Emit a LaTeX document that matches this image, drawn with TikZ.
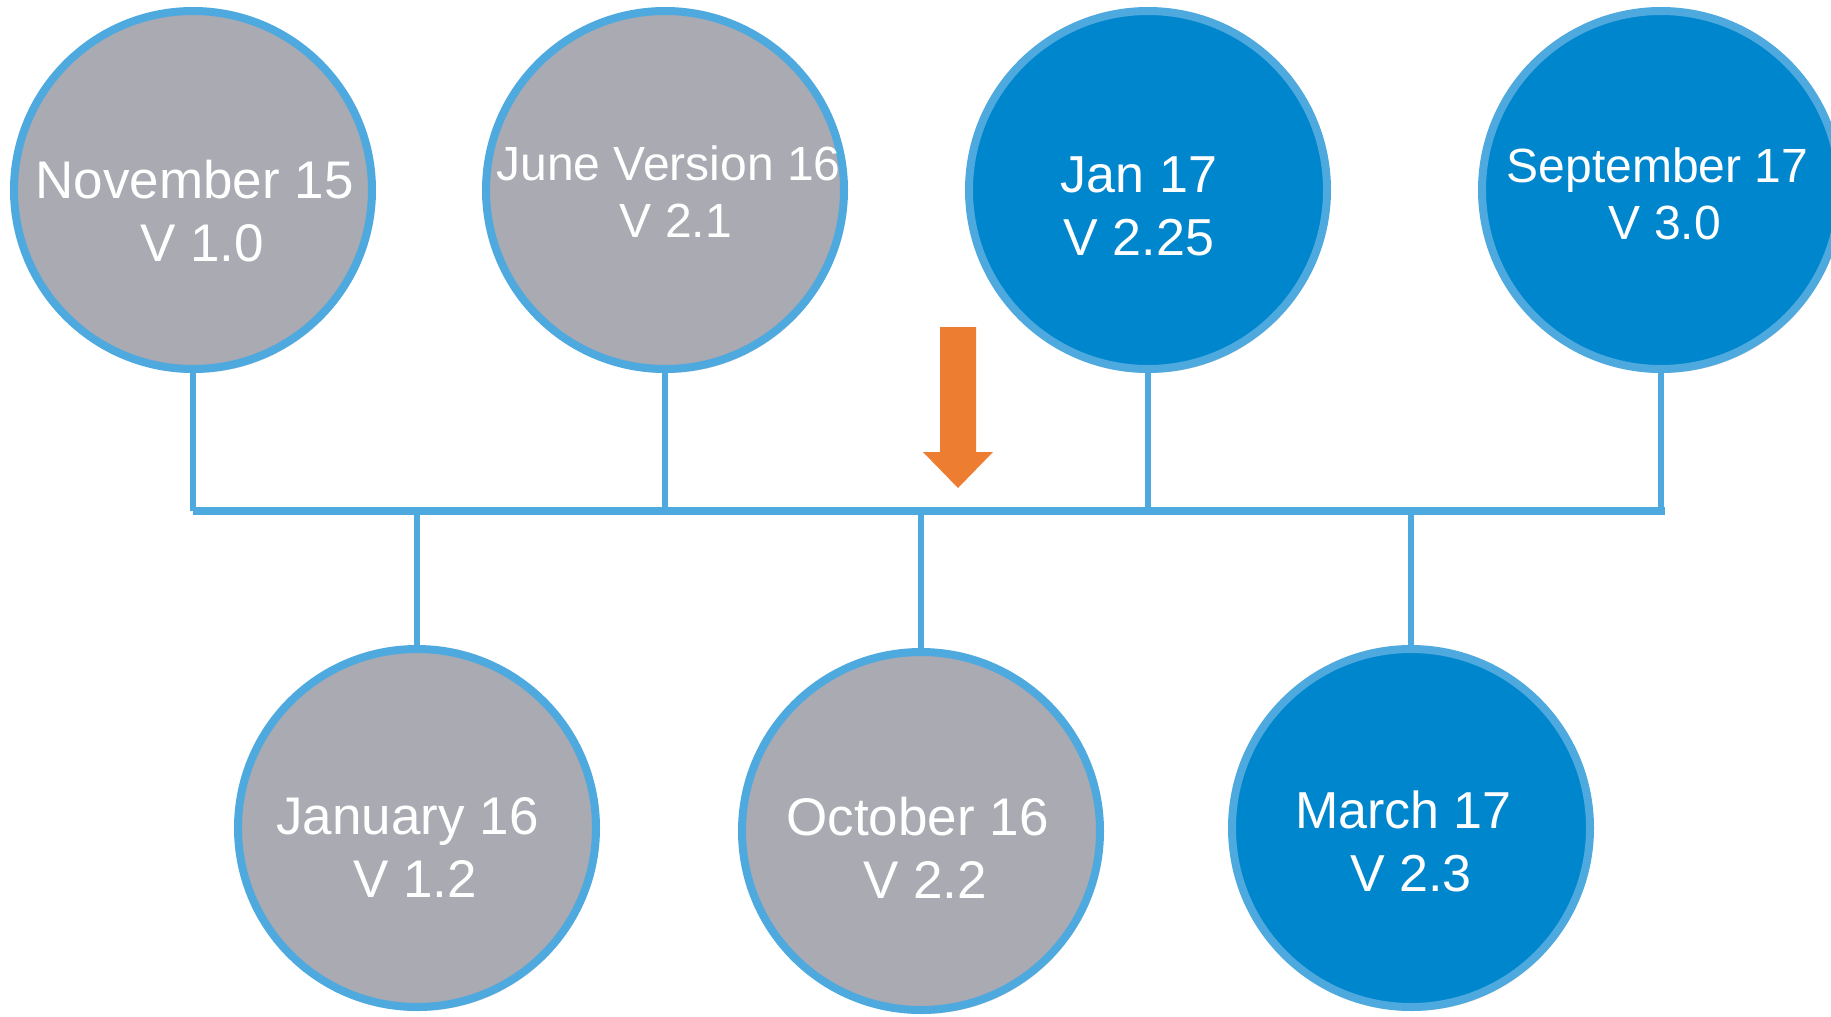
\documentclass[tikz,border=0pt]{standalone}
\usepackage{fontspec}
\setmainfont{Liberation Sans}
\usetikzlibrary{shadows}
\definecolor{ringblue}{HTML}{4EA9DF}
\definecolor{discgray}{HTML}{A9AAB2}
\definecolor{discblue}{HTML}{0086CD}
\definecolor{pointer}{HTML}{ED7D31}
\newcommand{\trail}{\kern15pt}
\tikzset{disc/.style={circle, draw=ringblue, line width=8pt, minimum size=358pt, inner sep=0pt,
           drop shadow={opacity=0.25, shadow xshift=2pt, shadow yshift=-4pt}},
         done/.style={disc, fill=discgray},
         soon/.style={disc, fill=discblue},
         stamp/.style={text=white, align=center, inner sep=0pt},
         bigtxt/.style={font=\fontsize{53}{63}\selectfont},
         midtxt/.style={font=\fontsize{52}{63}\selectfont},
         smalltxt/.style={font=\fontsize{48}{56.5}\selectfont},
         stem/.style={draw=ringblue, line width=6pt},
         spine/.style={draw=ringblue, line width=8pt}}

\begin{document}
\begin{tikzpicture}[x=1pt,y=-1pt]
   \clip (0,0) rectangle (1831,1017);
   \begin{scope}
    \node[done] (nov15) at ( 193,190) {};
    \node[done] (jun16) at ( 665,190) {};
    \node[soon] (jan17) at (1148,190) {};
    \node[soon] (sep17) at (1661,190) {};
    \node[done] (jan16) at ( 417,828) {};
    \node[done] (oct16) at ( 921,831) {};
    \node[soon] (mar17) at (1411,828) {};
   \end{scope}
   \begin{scope}
    \coordinate (tl) at ( 193,511);
    \coordinate (tr) at (1665,511);
    \draw[spine] (tl) -- (tr);
    \draw[stem] (nov15.south) -- (nov15.south |- tl);
    \draw[stem] (jun16.south) -- (jun16.south |- tl);
    \draw[stem] (jan17.south) -- (jan17.south |- tl);
    \draw[stem] (sep17.south) -- (sep17.south |- tl);
    \draw[stem] (jan16.north) -- (jan16.north |- tl);
    \draw[stem] (oct16.north) -- (oct16.north |- tl);
    \draw[stem] (mar17.north) -- (mar17.north |- tl);
   \end{scope}
   \begin{scope}
    \node[stamp,bigtxt]   (nov15t) at ( 202,211.5) {November 15\trail\\V 1.0};
    \node[stamp,smalltxt] (jun16t) at ( 676,191.5) {June Version 16\trail\\V 2.1};
    \node[stamp,midtxt]   (jan17t) at (1139,206)   {Jan 17\\V 2.25};
    \node[stamp,smalltxt] (sep17t) at (1665,194)   {September 17\trail\\V 3.0};
    \node[stamp,bigtxt]   (jan16t) at ( 415,847.5) {January 16\trail\\V 1.2};
    \node[stamp,bigtxt]   (oct16t) at ( 925,847.5) {October 16\trail\\V 2.2};
    \node[stamp,midtxt]   (mar17t) at (1411,841.5) {March 17\trail\\V 2.3};
   \end{scope}
   \fill[pointer] (940,327) -- (976,327) -- (976,452) -- (993,452) -- (958,488)
                  -- (923,452) -- (940,452) -- cycle;
\end{tikzpicture}
\end{document}
